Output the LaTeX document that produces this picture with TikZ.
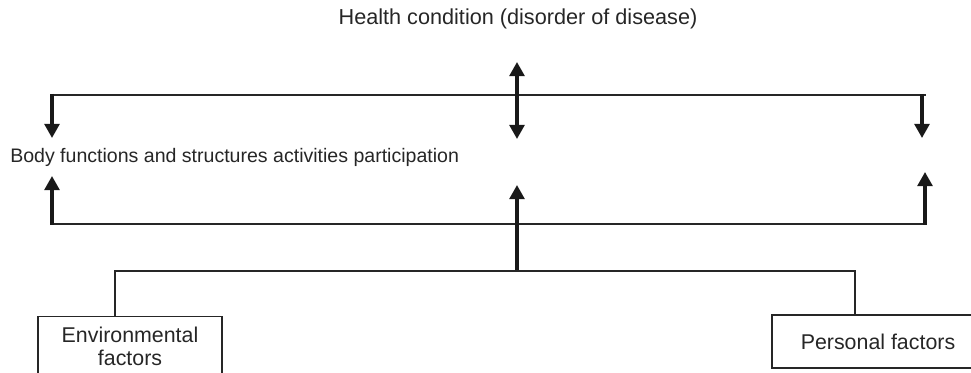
\documentclass[tikz,border=0pt]{standalone}
\usepackage{fontspec}
\setmainfont{Liberation Sans}
\usetikzlibrary{arrows.meta}

\tikzset{
	bar/.style={line width=1pt, black!85},
	thickarrow/.style={line width=2.3pt, black!90, -{Triangle[width=10.5pt,length=10pt]}},
	twoarrow/.style={line width=2.3pt, black!90, {Triangle[width=10.5pt,length=10pt]}-{Triangle[width=10.5pt,length=10pt]}},
	label/.style={inner sep=0pt, font=\fontsize{15.4}{16.4}\selectfont, text=black!85},
	factorbox/.style={draw=black!85, line width=1pt, align=center, inner sep=0pt, font=\fontsize{15.2}{16.4}\selectfont, text=black!85}
}

\begin{document}
\begin{tikzpicture}[x=0.025cm, y=-0.025cm]
\clip (0, 0) rectangle (971, 373);

% texts
\node[label, anchor=base] (health) at (518, 25) {Health condition (disorder of disease)};
\node[label, anchor=base west, font=\fontsize{13.9}{16}\selectfont] (body) at (10, 163) {Body functions and structures activities participation};

% factor boxes
\node[factorbox, minimum width=130.9pt, minimum height=42pt] (env) at (130, 346) {Environmental\\factors};
\node[factorbox, minimum width=150.8pt, minimum height=37.7pt] (pers) at (878, 341.5) {Personal factors};

% corners and arrow ends
\coordinate (tl) at (52, 95);
\coordinate (tr) at (926, 95);
\coordinate (bl) at (52, 224);
\coordinate (br) at (925, 224);
\coordinate (jl) at (115, 271);
\coordinate (jm) at (517, 271);
\coordinate (jr) at (855, 271);

\coordinate (ltop) at (52, 94);
\coordinate (ldown) at (52, 138);
\coordinate (rtop) at (922, 94);
\coordinate (rdown) at (922, 138);
\coordinate (mup) at (517, 62);
\coordinate (mdown) at (517, 139);
\coordinate (lbot) at (52, 225);
\coordinate (lup) at (52, 176);
\coordinate (rbot) at (925, 225);
\coordinate (rup) at (925, 172);
\coordinate (jup) at (517, 185);

% top bar
\draw[bar] (tl) -- (tr);
\draw[thickarrow] (ltop) -- (ldown);
\draw[thickarrow] (rtop) -- (rdown);
\draw[twoarrow] (mup) -- (mdown);

% bottom bar
\draw[bar] (bl) -- (br);
\draw[thickarrow] (lbot) -- (lup);
\draw[thickarrow] (rbot) -- (rup);
\draw[thickarrow] (jm) -- (jup);

% factors
\draw[bar] (env.north -| jl) -- (jl) -- (jr) -- (pers.north -| jr);
\end{tikzpicture}
\end{document}
